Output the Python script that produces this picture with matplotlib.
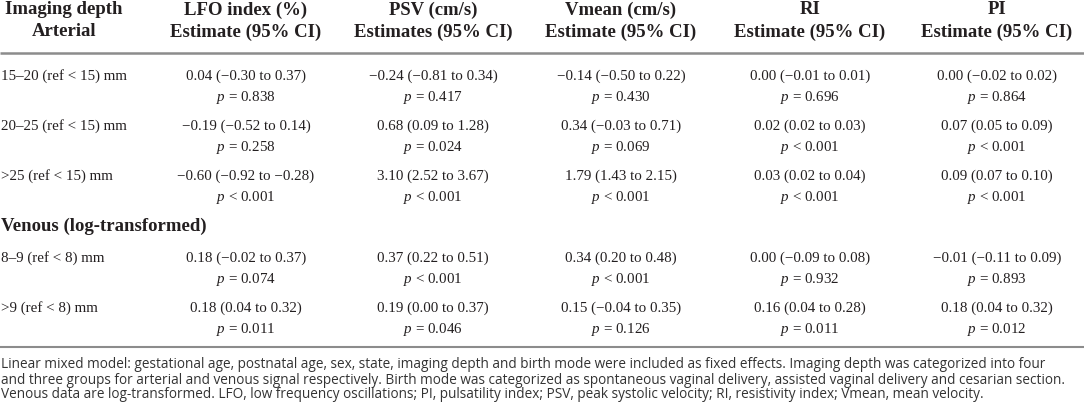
import matplotlib
matplotlib.use("Agg")
import matplotlib.pyplot as plt

plt.rcParams['mathtext.fontset'] = 'custom'
plt.rcParams['mathtext.rm'] = 'Liberation Serif'
plt.rcParams['mathtext.it'] = 'Liberation Serif:italic'

# table content
col_headers = ["LFO index (%)", "PSV (cm/s)", "Vmean (cm/s)", "RI", "PI"]
col_subheaders = ["Estimate (95% CI)", "Estimates (95% CI)", "Estimate (95% CI)",
                  "Estimate (95% CI)", "Estimate (95% CI)"]

arterial_labels = ["15–20 (ref < 15) mm", "20–25 (ref < 15) mm", ">25 (ref < 15) mm"]
arterial_est = [
    ["0.04 (−0.30 to 0.37)", "−0.24 (−0.81 to 0.34)", "−0.14 (−0.50 to 0.22)", "0.00 (−0.01 to 0.01)", "0.00 (−0.02 to 0.02)"],
    ["−0.19 (−0.52 to 0.14)", "0.68 (0.09 to 1.28)", "0.34 (−0.03 to 0.71)", "0.02 (0.02 to 0.03)", "0.07 (0.05 to 0.09)"],
    ["−0.60 (−0.92 to −0.28)", "3.10 (2.52 to 3.67)", "1.79 (1.43 to 2.15)", "0.03 (0.02 to 0.04)", "0.09 (0.07 to 0.10)"],
]
arterial_p = [
    ["= 0.838", "= 0.417", "= 0.430", "= 0.696", "= 0.864"],
    ["= 0.258", "= 0.024", "= 0.069", "< 0.001", "< 0.001"],
    ["< 0.001", "< 0.001", "< 0.001", "< 0.001", "< 0.001"],
]

venous_labels = ["8–9 (ref < 8) mm", ">9 (ref < 8) mm"]
venous_est = [
    ["0.18 (−0.02 to 0.37)", "0.37 (0.22 to 0.51)", "0.34 (0.20 to 0.48)", "0.00 (−0.09 to 0.08)", "−0.01 (−0.11 to 0.09)"],
    ["0.18 (0.04 to 0.32)", "0.19 (0.00 to 0.37)", "0.15 (−0.04 to 0.35)", "0.16 (0.04 to 0.28)", "0.18 (0.04 to 0.32)"],
]
venous_p = [
    ["= 0.074", "< 0.001", "< 0.001", "= 0.932", "= 0.893"],
    ["= 0.011", "= 0.046", "= 0.126", "= 0.011", "= 0.012"],
]

footnote = [
    "Linear mixed model: gestational age, postnatal age, sex, state, imaging depth and birth mode were included as fixed effects. Imaging depth was categorized into four",
    "and three groups for arterial and venous signal respectively. Birth mode was categorized as spontaneous vaginal delivery, assisted vaginal delivery and cesarian section.",
    "Venous data are log-transformed. LFO, low frequency oscillations; PI, pulsatility index; PSV, peak systolic velocity; RI, resistivity index; Vmean, mean velocity.",
]

W, H = 1084, 416
fig = plt.figure(figsize=(W / 100, H / 100), dpi=100)
ax = fig.add_axes([0, 0, 1, 1])
ax.set_xlim(0, W)
ax.set_ylim(H, 0)
ax.axis('off')

ink = '#231f20'
serif = 'Liberation Serif'
col_x = [246, 433, 621, 810, 997]
hdr_fs = 13.5
body_fs = 10.8

# header
ax.text(64, 10, "Imaging depth", ha='center', va='center', fontsize=hdr_fs,
        fontweight='bold', family=serif, color=ink)
ax.text(64, 32, "Arterial", ha='center', va='center', fontsize=hdr_fs,
        fontweight='bold', family=serif, color=ink)
for x, h1, h2 in zip(col_x, col_headers, col_subheaders):
    ax.text(x, 10, h1, ha='center', va='center', fontsize=hdr_fs,
            fontweight='bold', family=serif, color=ink)
    ax.text(x, 32, h2, ha='center', va='center', fontsize=hdr_fs,
            fontweight='bold', family=serif, color=ink)
ax.plot([0, W], [53, 53], color='#8c8c8c', lw=1.8, solid_capstyle='butt')


def draw_rows(labels, ests, ps, ys):
    for lab, est, pv, y in zip(labels, ests, ps, ys):
        ax.text(1, y, lab, ha='left', va='center', fontsize=body_fs,
                family=serif, color=ink)
        for x, e, p in zip(col_x, est, pv):
            ax.text(x, y, e, ha='center', va='center', fontsize=body_fs,
                    family=serif, color=ink)
            ax.text(x, y + 21, r"$\it{p}$" + " " + p, ha='center', va='center',
                    fontsize=body_fs, family=serif, color=ink)


draw_rows(arterial_labels, arterial_est, arterial_p, [76, 126, 176])
ax.text(1, 226, "Venous (log-transformed)", ha='left', va='center',
        fontsize=hdr_fs, fontweight='bold', family=serif, color=ink)
draw_rows(venous_labels, venous_est, venous_p, [258, 308])

ax.plot([0, W], [347, 347], color='#8c8c8c', lw=1.5, solid_capstyle='butt')

for i, line in enumerate(footnote):
    ax.text(1, 365 + i * 15, line, ha='left', va='center', fontsize=9.85,
            family='Open Sans', color='#333333')

fig.savefig('out.png', dpi=100)
